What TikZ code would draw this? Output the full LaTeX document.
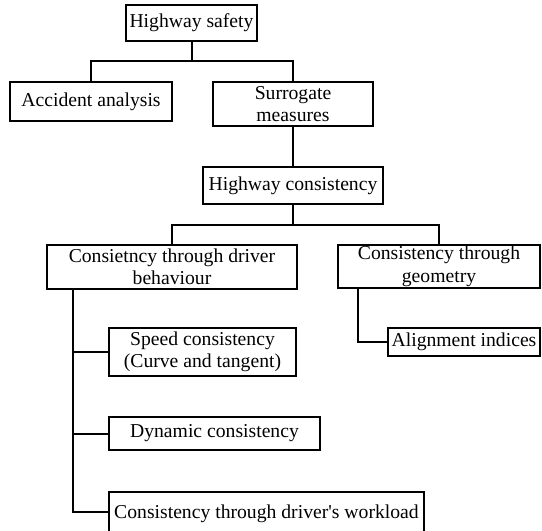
\documentclass[tikz,border=0pt]{standalone}
\usepackage{fontspec}
\setmainfont{Liberation Serif}
\usepackage{tikz}
\usetikzlibrary{calc}

\begin{document}
\begin{tikzpicture}[
  x=0.6pt, y=-0.6pt,
  font=\fontsize{11.8}{13.5}\selectfont,
  box/.style={draw, line width=1.2pt, align=center, inner sep=0pt},
  size/.style 2 args={minimum width=#1*0.6pt, minimum height=#2*0.6pt},
  link/.style={line width=1.2pt}
]
\useasboundingbox (0,0) rectangle (542,530);

\node[box, size={131}{36}] (safety) at (191.5,23) {Highway safety};

\node[box, size={162}{39}] (accident) at (91,101.5) {Accident analysis};
\node[box, size={160}{44}] (surrogate) at (293,104) {Surrogate\\measures};

\node[box, size={180}{37}] (hcons) at (293,185.5) {Highway consistency};

\node[box, size={250}{44}] (behav) at (172,267) {Consietncy through driver\\behaviour};
\node[box, size={202}{43}] (geom) at (439,266.5) {Consistency through\\geometry};

\node[box, size={187}{48}] (speed) at (202.5,352) {Speed consistency\\(Curve and tangent)};
\node[box, size={211}{33}] (dynamic) at (214.5,433.5) {Dynamic consistency};
\node[box, size={315}{44}] (workload) at (266.5,514) {Consistency through driver\textquotesingle s workload};

\node[box, size={152}{28}] (align) at (464,342) {Alignment indices};

% junction points
\coordinate (j1) at (191.5,61);
\coordinate (j2) at (293,225);
\coordinate (trunk) at (73,289);
\coordinate (gtrunk) at (358,288);

\draw[link] (safety.south) -- (j1);
\draw[link] (accident.north) |- (j1) -| (surrogate.north);
\draw[link] (surrogate.south) -- (hcons.north);
\draw[link] (hcons.south) -- (j2);
\draw[link] (behav.north) |- (j2) -| (geom.north);

\draw[link] (trunk) |- (speed.west);
\draw[link] (trunk) |- (dynamic.west);
\draw[link] (trunk) |- ($(workload.west)+(0,-2)$);
\draw[link] (gtrunk) |- (align.west);

\end{tikzpicture}
\end{document}
